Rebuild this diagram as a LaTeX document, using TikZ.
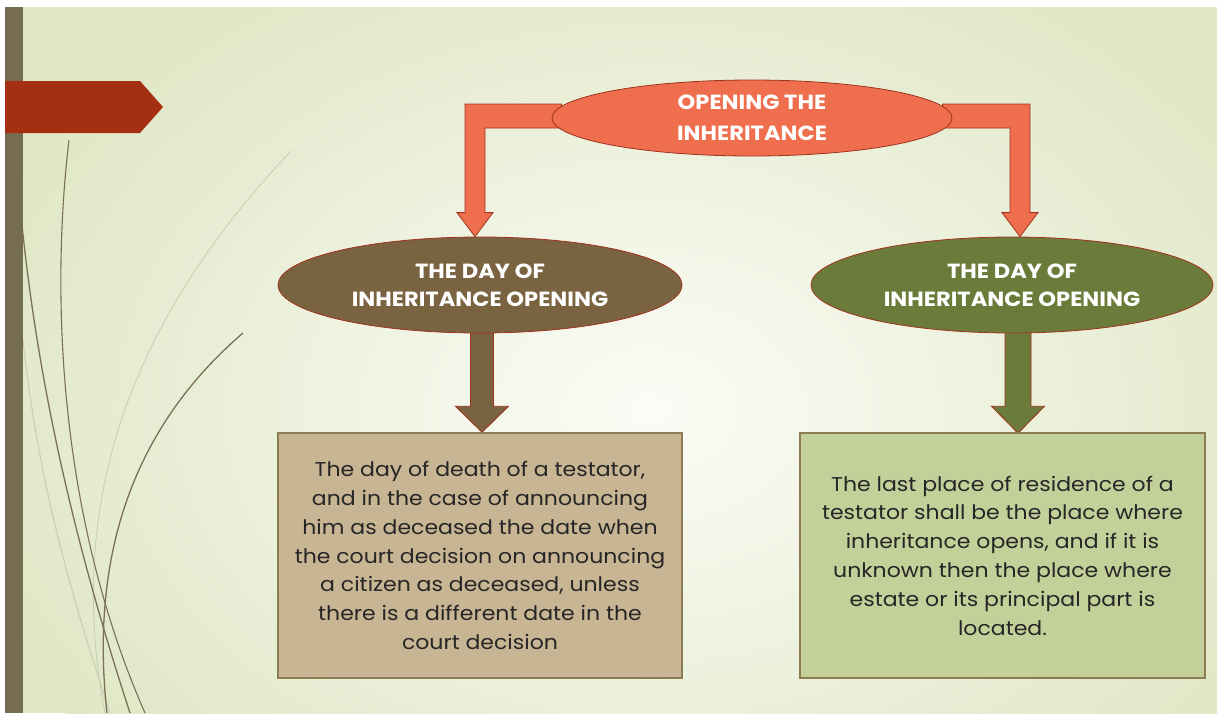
\documentclass[tikz,border=0pt]{standalone}
\usepackage{fontspec}
\setmainfont{Poppins}[FakeStretch=1.1]
\usetikzlibrary{shapes.geometric,calc}

\definecolor{bgout}{RGB}{223,231,197}
\definecolor{bgin}{RGB}{251,252,246}
\definecolor{barbrown}{RGB}{118,108,82}
\definecolor{tabred}{RGB}{165,47,17}
\definecolor{coral}{RGB}{239,110,78}
\definecolor{edgered}{RGB}{160,50,30}
\definecolor{dkbrown}{RGB}{122,99,64}
\definecolor{olive}{RGB}{107,124,58}
\definecolor{tanfill}{RGB}{200,181,147}
\definecolor{sage}{RGB}{195,208,154}
\definecolor{boxedge}{RGB}{140,124,84}
\definecolor{txt}{RGB}{38,38,38}
\definecolor{swirl}{RGB}{122,112,86}
\definecolor{swirlpale}{RGB}{200,205,178}

\pgfdeclarelayer{back}
\pgfdeclarelayer{arrows}
\pgfsetlayers{back,arrows,main}

\begin{document}
\begin{tikzpicture}[x=1pt,y=-1pt,
  oval/.style={ellipse, draw=edgered, line width=0.8pt, inner sep=0pt,
    text=white, align=center, font=\bfseries\fontsize{20.5}{28}\selectfont},
  textbox/.style={rectangle, draw=boxedge, line width=1.4pt, inner sep=0pt,
    minimum height=245pt, text=txt, align=center,
    font=\fontsize{20}{28.8}\selectfont},
  blockarrow/.style={draw=edgered, line width=0.8pt, line join=miter},
  swirldark/.style={draw=swirl, line width=1.3pt},
  swirllight/.style={draw=swirlpale, line width=1pt}]

\useasboundingbox (0,0) rectangle (1217,713);

% diagram nodes
\node[oval, fill=coral, minimum width=400pt, minimum height=76pt,
  font=\bfseries\fontsize{20.5}{31}\selectfont] (T) at (752,118)
  {OPENING THE\\INHERITANCE};
\node[oval, fill=dkbrown, minimum width=404pt, minimum height=96pt] (L) at (480,285)
  {THE DAY OF\\INHERITANCE OPENING};
\node[oval, fill=olive, minimum width=402pt, minimum height=96pt] (R) at (1012,285)
  {THE DAY OF\\INHERITANCE OPENING};
\node[textbox, fill=tanfill, minimum width=404pt] (LB) at (480,555.5)
  {The day of death of a testator,\\and in the case of announcing\\him as deceased the date when\\the court decision on announcing\\a citizen as deceased, unless\\there is a different date in the\\court decision};
\node[textbox, fill=sage, minimum width=405pt] (RB) at (1002.5,555.5)
  {The last place of residence of a\\testator shall be the place where\\inheritance opens, and if it is\\unknown then the place where\\estate or its principal part is\\located.};

% slide background, side bar, tab and swirls
\begin{pgfonlayer}{back}
  \fill[white] (0,0) rectangle (1217,713);
  \fill[bgout] (5,7) rectangle (1217,713);
  \begin{scope}
    \clip (5,7) rectangle (1217,713);
    \shade[inner color=bgin, outer color=bgout] (650,410) ellipse [x radius=720pt, y radius=520pt];
  \end{scope}
  \draw[swirllight] (23,340) .. controls (40,500) and (80,620) .. (110,713);
  \draw[swirllight, line width=0.8pt] (291,151) .. controls (150,300) and (60,480) .. (105,713);
  \draw[swirldark] (22,225) .. controls (40,400) and (80,560) .. (130,713);
  \draw[swirldark, line width=1.1pt] (69,140) .. controls (50,300) and (60,520) .. (145,713);
  \draw[swirldark] (243,333) .. controls (130,430) and (90,560) .. (107,713);
  \fill[barbrown] (5,7) rectangle (23,713);
  \fill[tabred] (5,81) -- (140,81) -- (163,107) -- (140,133) -- (5,133) -- cycle;
\end{pgfonlayer}

% block arrows between the nodes
\begin{pgfonlayer}{arrows}
  \coordinate (lt) at ($(L.north)+(-5,0)$);
  \filldraw[blockarrow, fill=coral]
    ($(T.west)+(10,-14)$) -- ($(lt |- T.west)+(-10,-14)$) -- ($(lt)+(-10,-24)$)
    -- ($(lt)+(-18,-24)$) -- (lt) -- ($(lt)+(18,-24)$) -- ($(lt)+(10,-24)$)
    -- ($(lt |- T.west)+(10,10)$) -- ($(T.west)+(10,10)$) -- cycle;
  \coordinate (rt) at ($(R.north)+(8,0)$);
  \filldraw[blockarrow, fill=coral]
    ($(T.east)+(-10,-14)$) -- ($(rt |- T.east)+(10,-14)$) -- ($(rt)+(10,-24)$)
    -- ($(rt)+(18,-24)$) -- (rt) -- ($(rt)+(-18,-24)$) -- ($(rt)+(-10,-24)$)
    -- ($(rt |- T.east)+(-10,10)$) -- ($(T.east)+(-10,10)$) -- cycle;
  \coordinate (ld) at ($(L.south)+(2,-6)$);
  \coordinate (ldt) at (LB.north -| ld);
  \filldraw[blockarrow, fill=dkbrown]
    ($(ld)+(-11.5,0)$) -- ($(ldt)+(-11.5,-26)$) -- ($(ldt)+(-26.5,-26)$) -- (ldt)
    -- ($(ldt)+(26.5,-26)$) -- ($(ldt)+(11.5,-26)$) -- ($(ld)+(11.5,0)$) -- cycle;
  \coordinate (rd) at ($(R.south)+(6,-6)$);
  \coordinate (rdt) at ($(RB.north -| rd)+(0,1)$);
  \filldraw[blockarrow, fill=olive]
    ($(rd)+(-13,0)$) -- ($(rdt)+(-13,-27)$) -- ($(rdt)+(-26.5,-27)$) -- (rdt)
    -- ($(rdt)+(26.5,-27)$) -- ($(rdt)+(13,-27)$) -- ($(rd)+(13,0)$) -- cycle;
\end{pgfonlayer}
\end{tikzpicture}
\end{document}
